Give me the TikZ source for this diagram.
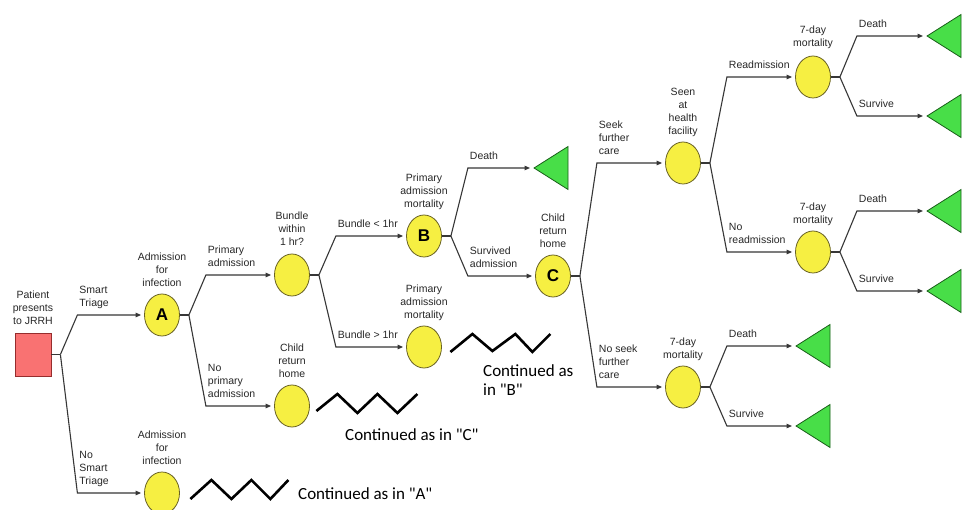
\documentclass[tikz,border=0pt]{standalone}
\usepackage{fontspec}
\setmainfont{Liberation Sans}
\newfontfamily\contfont{Carlito}
\usetikzlibrary{shapes.geometric,arrows.meta,calc}

\definecolor{chancefill}{RGB}{246,239,66}
\definecolor{chancedraw}{RGB}{105,98,35}
\definecolor{termfill}{RGB}{72,222,72}
\definecolor{termdraw}{RGB}{25,95,25}
\definecolor{decfill}{RGB}{249,114,114}
\definecolor{decdraw}{RGB}{150,45,45}
\definecolor{edgecol}{RGB}{55,55,55}
\definecolor{labelcol}{RGB}{40,40,40}

% short stub leaving a node, ending at the split point <name>s
\newcommand\splitat[1]{\coordinate (#1s) at ([xshift=9pt]#1.east); \draw[edge] (#1.east) -- (#1s);}
% one branch: split point -> bend -> arrow into the target node, labelled above
\newcommand\branchto[3]{\draw[edge,arr] (#1s) -- ($(#1s |- #2)+(17,0)$) node[brlbl]{#3} -- ([xshift=-3pt]#2.west);}

\begin{document}
\begin{tikzpicture}[x=1pt,y=-1pt,
  every node/.style={font=\fontsize{10.5}{13}\selectfont, text=labelcol},
  chance/.style={ellipse, draw=chancedraw, fill=chancefill, line width=0.8pt,
    minimum width=35pt, minimum height=42pt, inner sep=0pt},
  lettered/.style={font=\bfseries\fontsize{17}{17}\selectfont, text=black},
  decision/.style={rectangle, draw=decdraw, fill=decfill, line width=0.8pt,
    minimum width=36pt, minimum height=43pt, inner sep=0pt},
  terminal/.style={isosceles triangle, shape border rotate=180, isosceles triangle stretches,
    minimum width=43pt, minimum height=34pt, inner sep=0pt,
    draw=termdraw, fill=termfill, line width=0.8pt, anchor=apex},
  edge/.style={draw=edgecol, line width=1.1pt},
  arr/.style={-{Triangle[length=5.5pt,width=4.5pt]}},
  brlbl/.style={anchor=south west, align=left, inner xsep=1.5pt, inner ysep=0pt,
    text depth=0pt, yshift=8pt},
  toplbl/.style={anchor=south, align=center, inner sep=0pt, text depth=0pt},
  zig/.style={draw=black, line width=2.6pt},
  cont/.style={anchor=base west, inner sep=0pt, font=\contfont\fontsize{17}{21}\selectfont, text=black}
]
\fill[white] (0,0) rectangle (963,510);
\useasboundingbox (0,0) rectangle (963,510);
\clip (0,0) rectangle (963,510);

% decision, chance and terminal nodes
\node[decision] (root) at (33,354.5) {};
\node[chance,lettered] (A) at (162,315) {A};
\node[chance] (N2) at (162,493) {};
\node[chance] (Q1) at (292,275) {};
\node[chance] (H1) at (292,406) {};
\node[chance,lettered] (B) at (424,236) {B};
\node[chance] (P2) at (424,347) {};
\node[chance,lettered] (C) at (553,276) {C};
\node[chance] (S) at (683,163) {};
\node[chance] (M3) at (683,387) {};
\node[chance] (M1) at (813,77) {};
\node[chance] (M2) at (813,252) {};
\node[terminal] (T1) at (533,168) {};
\node[terminal] (T2) at (926,36) {};
\node[terminal] (T3) at (926,116) {};
\node[terminal] (T4) at (926,211) {};
\node[terminal] (T5) at (926,291) {};
\node[terminal] (T6) at (795,346) {};
\node[terminal] (T7) at (795,426) {};

% captions above the nodes
\node[toplbl] (rootT) at ([yshift=8pt]root.north) {Patient\\presents\\to JRRH};
\node[toplbl] (AT) at ([yshift=7pt]A.north) {Admission\\for\\infection};
\node[toplbl] (N2T) at ([yshift=7pt]N2.north) {Admission\\for\\infection};
\node[toplbl] (Q1T) at ([yshift=7.5pt]Q1.north) {Bundle\\within\\1 hr?};
\node[toplbl] (H1T) at ([yshift=7pt]H1.north) {Child\\return\\home};
\node[toplbl] (BT) at ([yshift=7pt]B.north) {Primary\\admission\\mortality};
\node[toplbl] (P2T) at ([yshift=7pt]P2.north) {Primary\\admission\\mortality};
\node[toplbl] (CT) at ([yshift=7pt]C.north) {Child\\return\\home};
\node[toplbl] (ST) at ([yshift=7pt]S.north) {Seen\\at\\health\\facility};
\node[toplbl] (M3T) at ([yshift=7pt]M3.north) {7-day\\mortality};
\node[toplbl] (M1T) at ([yshift=9pt]M1.north) {7-day\\mortality};
\node[toplbl] (M2T) at ([yshift=7pt]M2.north) {7-day\\mortality};

% branches
\splitat{root}
\branchto{root}{A}{Smart\\Triage}
\branchto{root}{N2}{No\\Smart\\Triage}
\splitat{A}
\branchto{A}{Q1}{Primary\\admission}
\branchto{A}{H1}{No\\primary\\admission}
\splitat{Q1}
\branchto{Q1}{B}{Bundle < 1hr}
\branchto{Q1}{P2}{Bundle > 1hr}
\splitat{B}
\branchto{B}{T1}{Death}
\branchto{B}{C}{Survived\\admission}
\splitat{C}
\branchto{C}{S}{Seek\\further\\care}
\branchto{C}{M3}{No seek\\further\\care}
\splitat{S}
\branchto{S}{M1}{Readmission}
\branchto{S}{M2}{No\\readmission}
\splitat{M1}
\branchto{M1}{T2}{Death}
\branchto{M1}{T3}{Survive}
\splitat{M2}
\branchto{M2}{T4}{Death}
\branchto{M2}{T5}{Survive}
\splitat{M3}
\branchto{M3}{T6}{Death}
\branchto{M3}{T7}{Survive}

% zigzag markers for subtrees that repeat
\draw[zig] ($(P2.east)+(8.5,5)$) -- ++(22,-18) -- ++(20,17) -- ++(23,-17) -- ++(17,18) -- ++(18,-18);
\draw[zig] ($(H1.east)+(6.5,5)$) -- ++(21,-17) -- ++(20,19) -- ++(20,-19) -- ++(20,19) -- ++(20,-19);
\draw[zig] ($(N2.east)+(10.5,6)$) -- ++(21,-19) -- ++(20,19) -- ++(20,-19) -- ++(19,19) -- ++(18,-19);

\node[cont] (contB1) at (483,376) {Continued as};
\node[cont] (contB2) at (483,395) {in "B"};
\node[cont] (contC) at (345,440) {Continued as in "C"};
\node[cont] (contA) at (298,499) {Continued as in "A"};
\end{tikzpicture}
\end{document}
